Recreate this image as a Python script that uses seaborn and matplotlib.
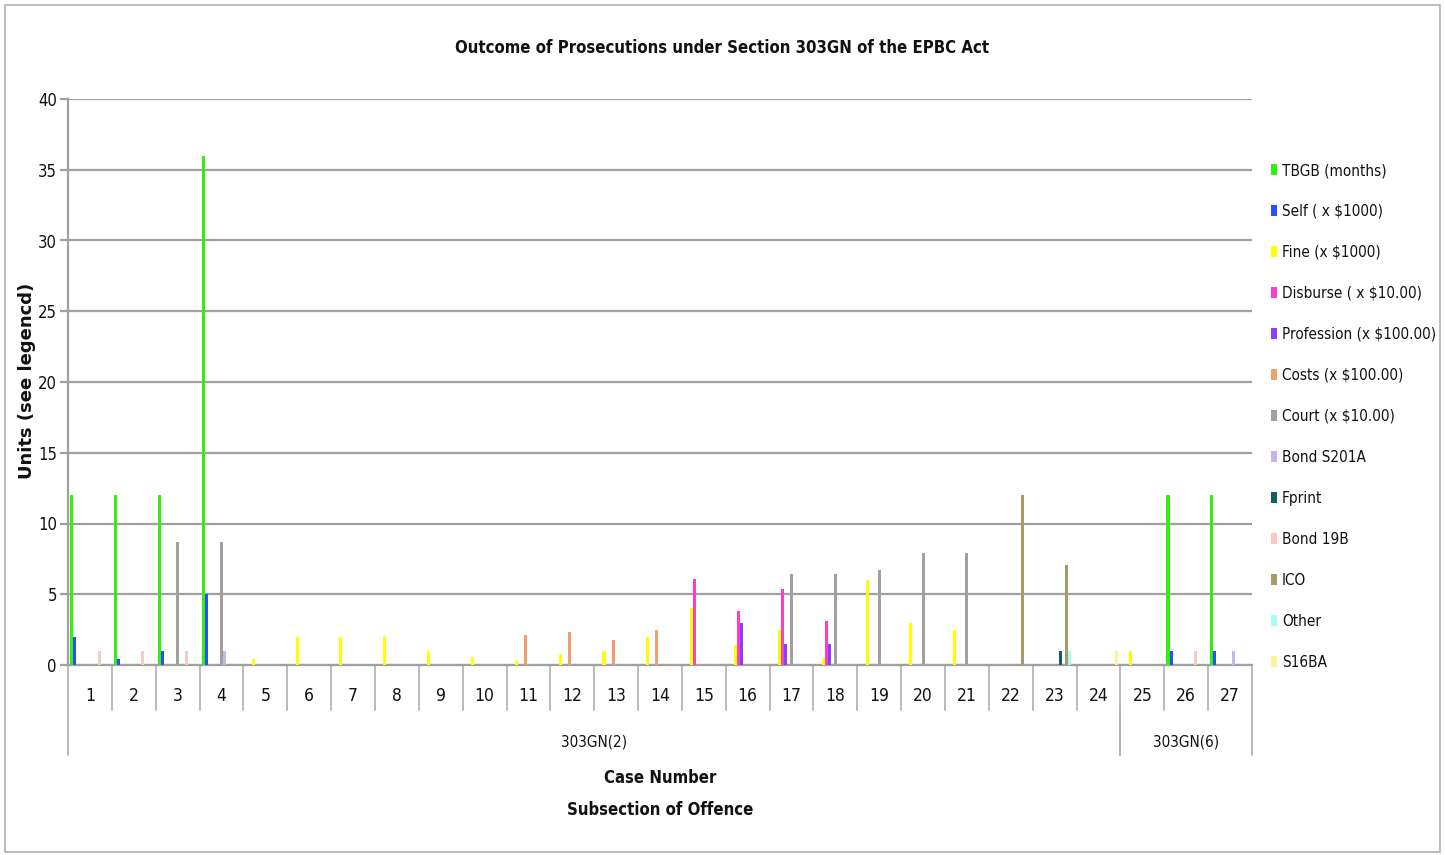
import matplotlib
matplotlib.use("Agg")
import matplotlib.pyplot as plt
import matplotlib.transforms as mtransforms
from matplotlib import font_manager
from matplotlib.patches import Patch, Rectangle
import seaborn as sns
import pandas as pd

# ---------------- data ----------------
cases = [str(i) for i in range(1, 28)]
series = ["TBGB (months)", "Self ( x $1000)", "Fine (x $1000)", "Disburse ( x $10.00)",
          "Profession (x $100.00)", "Costs (x $100.00)", "Court (x $10.00)", "Bond S201A",
          "Fprint", "Bond 19B", "ICO", "Other", "S16BA"]
colors = ["#33ee11", "#2a4dff", "#ffff00", "#ff3ec8", "#8a3cff", "#f0a06c", "#a0a0a0",
          "#c9b2f2", "#115e63", "#f9c9c4", "#a89a66", "#a6fbfb", "#fbf29c"]

tbgb       = [12, 12, 12, 36, 0, 0, 0, 0, 0, 0, 0, 0, 0, 0, 0, 0, 0, 0, 0, 0, 0, 0, 0, 0, 0, 12, 12]
self_      = [2, 0.45, 1, 5, 0, 0, 0, 0, 0, 0, 0, 0, 0, 0, 0, 0, 0, 0, 0, 0, 0, 0, 0, 0, 0, 1, 1]
fine       = [0, 0, 0, 0, 0.45, 2, 2, 2, 1, 0.6, 0.3, 0.8, 1.0, 1.95, 4.0, 1.4, 2.45, 0.5, 6.0, 2.95, 2.45, 0, 0, 0, 1, 0, 0]
disburse   = [0, 0, 0, 0, 0, 0, 0, 0, 0, 0, 0, 0, 0, 0, 6.05, 3.8, 5.35, 3.1, 0, 0, 0, 0, 0, 0, 0, 0, 0]
profession = [0, 0, 0, 0, 0, 0, 0, 0, 0, 0, 0, 0, 0, 0, 0, 2.95, 1.45, 1.45, 0, 0, 0, 0, 0, 0, 0, 0, 0]
costs      = [0, 0, 0, 0, 0, 0, 0, 0, 0, 0, 2.1, 2.35, 1.75, 2.5, 0, 0, 0, 0, 0, 0, 0, 0, 0, 0, 0, 0, 0]
court      = [0, 0, 8.7, 8.7, 0, 0, 0, 0, 0, 0, 0, 0, 0, 0, 0, 0, 6.4, 6.4, 6.7, 7.9, 7.9, 0, 0, 0, 0, 0, 0]
bond_s201a = [0, 0, 0, 1, 0, 0, 0, 0, 0, 0, 0, 0, 0, 0, 0, 0, 0, 0, 0, 0, 0, 0, 0, 0, 0, 0, 1]
fprint     = [0, 0, 0, 0, 0, 0, 0, 0, 0, 0, 0, 0, 0, 0, 0, 0, 0, 0, 0, 0, 0, 0, 1, 0, 0, 0, 0]
bond_19b   = [1, 1, 1, 0, 0, 0, 0, 0, 0, 0, 0, 0, 0, 0, 0, 0, 0, 0, 0, 0, 0, 0, 0, 0, 0, 1, 0]
ico        = [0, 0, 0, 0, 0, 0, 0, 0, 0, 0, 0, 0, 0, 0, 0, 0, 0, 0, 0, 0, 0, 12, 7.05, 0, 0, 0, 0]
other      = [0, 0, 0, 0, 0, 0, 0, 0, 0, 0, 0, 0, 0, 0, 0, 0, 0, 0, 0, 0, 0, 0, 1, 0, 0, 0, 0]
s16ba      = [0, 0, 0, 0, 0, 0, 0, 0, 0, 0, 0, 0, 0, 0, 0, 0, 0, 0, 0, 0, 0, 0, 0, 1, 0, 0, 0]

groups = ["303GN(2)", "303GN(6)"]
group_spans = [(1, 24), (25, 27)]
yticks = [0, 5, 10, 15, 20, 25, 30, 35, 40]

values = [tbgb, self_, fine, disburse, profession, costs, court, bond_s201a,
          fprint, bond_19b, ico, other, s16ba]

rows = []
for name, vals in zip(series, values):
    for c, v in zip(cases, vals):
        rows.append({"case": c, "series": name, "value": v})
df = pd.DataFrame(rows)

# ---------------- style ----------------
sns.set_theme(style="white")
fl = font_manager.fontManager.ttflist
narrow_entries = [f for f in fl if "Narrow" in f.name or "Condensed" in f.name
                  or str(f.stretch) in ("condensed", "semi-condensed", "extra-condensed")]
if any(f.name == "Liberation Sans Narrow" for f in fl):
    plt.rcParams["font.family"] = ["Liberation Sans Narrow", "DejaVu Sans"]
elif any(f.name == "DejaVu Sans" and str(f.stretch) == "condensed" for f in fl):
    plt.rcParams["font.family"] = ["DejaVu Sans"]
    plt.rcParams["font.stretch"] = "condensed"
elif narrow_entries:
    plt.rcParams["font.family"] = [narrow_entries[0].name, "DejaVu Sans"]
    plt.rcParams["font.stretch"] = narrow_entries[0].stretch
else:
    plt.rcParams["font.family"] = ["Liberation Sans", "DejaVu Sans"]

GRID = "#a0a0a0"
LINE = "#b4b4b4"
TXT = "#111111"

fig = plt.figure(figsize=(14.45, 8.55), dpi=100)
ax = fig.add_axes([68 / 1445, 1 - 665 / 855, (1252 - 68) / 1445, (665 - 99) / 855])

sns.barplot(data=df, x="case", y="value", hue="series", order=cases, hue_order=series,
            palette=colors, width=0.9, saturation=1, linewidth=0, legend=False,
            errorbar=None, ax=ax, zorder=3)

ax.set_ylim(0, 40)
ax.set_xlim(-0.5, len(cases) - 0.5)
ax.set_yticks(yticks)
ax.set_yticklabels([str(t) for t in yticks], fontsize=12, color=TXT)
ax.yaxis.grid(True, color=GRID, linewidth=1.6, zorder=0)
ax.set_axisbelow(True)
ax.tick_params(axis="y", length=6, width=1.6, color=GRID, pad=2, left=True)
ax.tick_params(axis="x", bottom=False, labelbottom=False)
ax.set_xlabel("")
ax.set_ylabel("")
for s in ["top", "right"]:
    ax.spines[s].set_visible(False)
ax.spines["left"].set_color(GRID)
ax.spines["left"].set_linewidth(1.6)
ax.spines["bottom"].set_color(GRID)
ax.spines["bottom"].set_linewidth(1.6)

# ---------------- category table below axis ----------------
trans = mtransforms.blended_transform_factory(ax.transData, ax.transAxes)
ah = 566.0
r1 = -45 / ah
r2 = -90 / ah
n = len(cases)
for i in range(n + 1):
    ax.plot([i - 0.5, i - 0.5], [0, r1], color=LINE, lw=1.3, transform=trans, clip_on=False)
for i, c in enumerate(cases):
    ax.text(i, -31 / ah, c, ha="center", va="center", fontsize=12.5, color=TXT, transform=trans)
for g, (a, b) in zip(groups, group_spans):
    for xb in (a - 1.5, b - 0.5):
        ax.plot([xb, xb], [r1, r2], color=LINE, lw=1.3, transform=trans, clip_on=False)
    ax.text((a + b) / 2 - 1, -77 / ah, g, ha="center", va="center", fontsize=11, color=TXT,
            transform=trans)

fig.text(660 / 1445, 1 - 778 / 855, "Case Number", ha="center", va="center",
         fontsize=12, fontweight="bold", color=TXT)
fig.text(660 / 1445, 1 - 810 / 855, "Subsection of Offence", ha="center", va="center",
         fontsize=12, fontweight="bold", color=TXT)
fig.text(722 / 1445, 1 - 48 / 855, "Outcome of Prosecutions under Section 303GN of the EPBC Act",
         ha="center", va="center", fontsize=12, fontweight="bold", color=TXT)
fig.text(27 / 1445, 1 - 381 / 855, "Units (see legencd)", rotation=90, ha="center", va="center",
         fontsize=13, fontweight="bold", family=["DejaVu Sans"], fontstretch="normal", color=TXT)

# ---------------- legend ----------------
handles = [Patch(facecolor=c, edgecolor="none", label=s) for s, c in zip(series, colors)]
fig.legend(handles=handles, loc="upper left", bbox_to_anchor=(1271 / 1445, 1 - 163 / 855),
           frameon=False, fontsize=11, handlelength=0.42, handleheight=0.75,
           handletextpad=0.3, labelspacing=1.7, borderaxespad=0, borderpad=0,
           labelcolor=TXT)

# figure border
fig.patches.append(Rectangle((5 / 1445, 3 / 855), 1435 / 1445, 847 / 855, transform=fig.transFigure,
                             fill=False, edgecolor="#b0b0b0", linewidth=1.2))

fig.savefig("out.png", dpi=100)
